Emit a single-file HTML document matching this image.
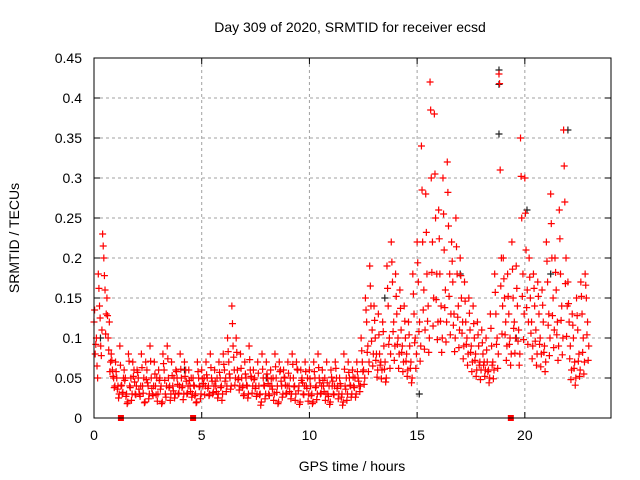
<!DOCTYPE html>
<html><head><meta charset="utf-8"><style>
body{margin:0;background:#fff}
svg{display:block;font-family:"Liberation Sans",sans-serif}
</style></head><body>
<svg id="chart" width="640" height="480">
<rect width="640" height="480" fill="#fff"/>
<text x="350" y="32" font-size="14" text-anchor="middle">Day 309 of 2020, SRMTID for receiver ecsd</text>
<text x="352" y="471" font-size="14" text-anchor="middle">GPS time / hours</text>
<text transform="translate(19,238) rotate(-90)" font-size="14" text-anchor="middle">SRMTID / TECUs</text>
<g id="grid"></g>
<g id="ticks"></g>
<g id="black"></g>
<g id="red"></g>
<g id="marks"></g>
<rect x="94" y="58" width="517" height="360" fill="none" stroke="#000" stroke-width="1"/>
</svg>
<script>
const xTicks=[0,5,10,15,20];
const yTicks=[0,0.05,0.1,0.15,0.2,0.25,0.3,0.35,0.4,0.45];
const yTickLabels=["0","0.05","0.1","0.15","0.2","0.25","0.3","0.35","0.4","0.45"];
const times=[];for(let i=0;i<115;i++)times.push(+(i*0.2).toFixed(1));
const redA=[.12,.18,.23,.15,.08,.07,.09,.06,.08,.07,.06,.08,.07,.09,.07,.06,.08,.09,.07,.06,.08,.07,.06,.05,.07,.06,.07,.08,.06,.07,.08,.10,.14,.10,.08,.07,.09,.06,.07,.08,.07,.06,.08,.07,.06,.07,.08,.07,.06,.07,.06,.07,.08,.06,.07,.06,.07,.05,.08,.07,.06,.07,.10,.15,.19,.14,.13,.12,.19,.22,.18,.16,.14,.12,.18,.22,.34,.28,.42,.38,.26,.30,.32,.22,.25,.20,.17,.15,.14,.12,.11,.10,.13,.18,.43,.20,.18,.22,.19,.35,.30,.20,.18,.17,.16,.22,.28,.20,.26,.36,.17,.13,.15,.17,.18];
const redB=[.08,.14,.20,.10,.06,.05,.04,.05,.04,.06,.05,.04,.06,.05,.04,.05,.06,.05,.04,.05,.05,.06,.04,.04,.05,.04,.05,.05,.04,.05,.06,.07,.09,.06,.05,.05,.06,.05,.04,.05,.05,.04,.05,.06,.05,.04,.05,.06,.05,.04,.04,.05,.05,.04,.03,.04,.05,.04,.04,.05,.04,.05,.07,.12,.14,.10,.08,.09,.14,.17,.13,.11,.10,.09,.13,.17,.22,.18,.30,.25,.18,.21,.24,.17,.18,.15,.12,.11,.10,.09,.08,.07,.09,.13,.31,.15,.13,.15,.14,.25,.21,.15,.14,.13,.12,.17,.20,.16,.18,.27,.12,.10,.11,.13,.15];
const redC=[.10,.09,.16,.12,.05,.04,.03,.03,.05,.03,.03,.05,.04,.03,.05,.04,.03,.04,.05,.03,.04,.03,.05,.03,.04,.05,.04,.03,.05,.04,.05,.05,.06,.05,.04,.04,.05,.04,.03,.04,.03,.05,.04,.04,.03,.05,.04,.04,.03,.05,.03,.04,.03,.05,.04,.03,.04,.03,.05,.04,.05,.04,.06,.09,.11,.08,.07,.07,.10,.12,.10,.09,.08,.07,.10,.12,.16,.14,.22,.18,.14,.16,.18,.13,.14,.12,.10,.09,.08,.07,.07,.06,.07,.10,.20,.12,.10,.12,.11,.18,.16,.12,.11,.10,.09,.13,.15,.12,.14,.20,.09,.07,.08,.10,.12];
const redD=[.05,.11,.13,.07,.04,.03,.05,.02,.03,.04,.04,.02,.03,.04,.03,.02,.04,.03,.03,.04,.03,.04,.03,.02,.03,.04,.03,.04,.03,.03,.04,.04,.05,.04,.03,.03,.04,.03,.02,.03,.04,.03,.02,.03,.04,.03,.03,.02,.04,.03,.02,.03,.04,.03,.02,.04,.03,.02,.03,.03,.03,.04,.05,.07,.08,.06,.06,.05,.08,.09,.08,.07,.06,.05,.08,.09,.11,.10,.15,.12,.10,.12,.13,.10,.11,.09,.08,.07,.06,.06,.06,.05,.06,.08,.14,.09,.08,.10,.08,.13,.12,.09,.08,.08,.07,.10,.11,.09,.10,.14,.06,.05,.06,.07,.09];
const redE=[.135,.162,.215,.128,.072,.058,.066,.047,.071,.052,.057,.063,.048,.071,.055,.047,.068,.074,.053,.058,.061,.052,.047,.041,.058,.049,.054,.063,.046,.057,.067,.083,.118,.082,.062,.055,.073,.048,.056,.061,.055,.049,.064,.058,.051,.056,.067,.061,.047,.058,.049,.058,.063,.047,.044,.051,.062,.043,.061,.057,.051,.058,.084,.135,.165,.122,.104,.108,.162,.195,.152,.137,.121,.104,.155,.194,.285,.232,.385,.305,.224,.255,.282,.196,.214,.178,.146,.131,.118,.104,.094,.085,.112,.157,.418,.174,.152,.186,.162,.302,.256,.176,.162,.152,.141,.196,.243,.182,.224,.315,.143,.116,.128,.152,.166];
const redF=[.092,.125,.178,.085,.052,.036,.041,.027,.038,.045,.036,.031,.044,.037,.029,.036,.047,.038,.034,.042,.038,.046,.033,.028,.039,.043,.037,.046,.033,.038,.046,.055,.076,.048,.038,.041,.052,.037,.029,.041,.043,.036,.032,.046,.041,.033,.039,.034,.044,.037,.028,.038,.044,.033,.027,.046,.037,.026,.036,.041,.038,.046,.058,.082,.096,.072,.066,.061,.092,.108,.092,.082,.071,.062,.094,.108,.135,.121,.182,.148,.121,.138,.152,.116,.126,.106,.092,.082,.072,.066,.066,.058,.066,.092,.165,.104,.092,.112,.096,.152,.138,.106,.096,.092,.082,.116,.128,.104,.122,.168,.074,.062,.071,.082,.104];
const redG=[.065,.078,.105,.058,.038,.025,.032,.018,.022,.029,.027,.019,.024,.028,.021,.018,.026,.022,.025,.031,.023,.031,.026,.019,.024,.029,.028,.032,.025,.022,.033,.036,.041,.035,.028,.025,.031,.027,.016,.024,.028,.022,.018,.026,.031,.024,.022,.017,.029,.021,.018,.023,.031,.022,.017,.029,.024,.016,.022,.026,.026,.033,.042,.058,.065,.051,.049,.045,.062,.072,.062,.058,.052,.044,.062,.071,.086,.082,.115,.098,.082,.095,.104,.083,.088,.074,.066,.058,.052,.048,.052,.044,.049,.062,.105,.072,.066,.081,.066,.098,.092,.074,.066,.064,.058,.078,.088,.072,.079,.102,.048,.041,.052,.055,.072];
const blackT=[0.3,4.2,8.0,13.5,15.1,17.0,18.8,18.8,18.8,19.6,20.1,21.2,22.0];
const blackV=[0.10,0.06,0.05,0.15,0.03,0.18,0.435,0.417,0.355,0.10,0.26,0.18,0.36];
const markerT=[1.25,4.6,19.35];
const NS="http://www.w3.org/2000/svg";
const X=t=>94+t*(517/24), Y=v=>418-v*(360/0.45);
function mk(tag,attrs,parent){const e=document.createElementNS(NS,tag);for(const k in attrs)e.setAttribute(k,attrs[k]);parent.appendChild(e);return e;}
const grid=document.getElementById('grid'),ticks=document.getElementById('ticks');
xTicks.forEach(t=>{const x=X(t);
 if(t>0){const l=mk('line',{x1:x,y1:58,x2:x,y2:418,stroke:'#a0a0a0','stroke-dasharray':'3,3'},grid);}
 mk('line',{x1:x,y1:418,x2:x,y2:412,stroke:'#000'},ticks);mk('line',{x1:x,y1:58,x2:x,y2:64,stroke:'#000'},ticks);
 const tx=mk('text',{x:x,y:440,'font-size':14,'text-anchor':'middle'},ticks);tx.textContent=String(t);
 });
yTicks.forEach((v,i)=>{const y=Y(v);
 if(v>0){const l=mk('line',{x1:94,y1:y,x2:611,y2:y,stroke:'#a0a0a0','stroke-dasharray':'3,3'},grid);}
 mk('line',{x1:94,y1:y,x2:100,y2:y,stroke:'#000'},ticks);mk('line',{x1:611,y1:y,x2:605,y2:y,stroke:'#000'},ticks);
 const tx=mk('text',{x:82,y:y+5,'font-size':14,'text-anchor':'end'},ticks);tx.textContent=yTickLabels[i];
 });
function plus(t,v,col,g){const x=X(t),y=Y(v);
 const p=mk('path',{d:`M${x-3.5},${y}H${x+3.5}M${x},${y-3.5}V${y+3.5}`,stroke:col,'stroke-width':1.2,fill:'none'},g);
 
 }
const bg=document.getElementById('black');
blackT.forEach((t,i)=>plus(t,blackV[i],'#222',bg));
const rg=document.getElementById('red');
[redA,redE,redB,redF,redC,redG,redD].forEach((s,k)=>times.forEach((t,i)=>plus(t+k*0.028,s[i],'#ff0000',rg)));
const mg=document.getElementById('marks');
markerT.forEach(t=>{const r=mk('rect',{x:X(t)-3,y:415,width:6,height:6,fill:'#ff0000'},mg);
 
 });
</script>
</body></html>
